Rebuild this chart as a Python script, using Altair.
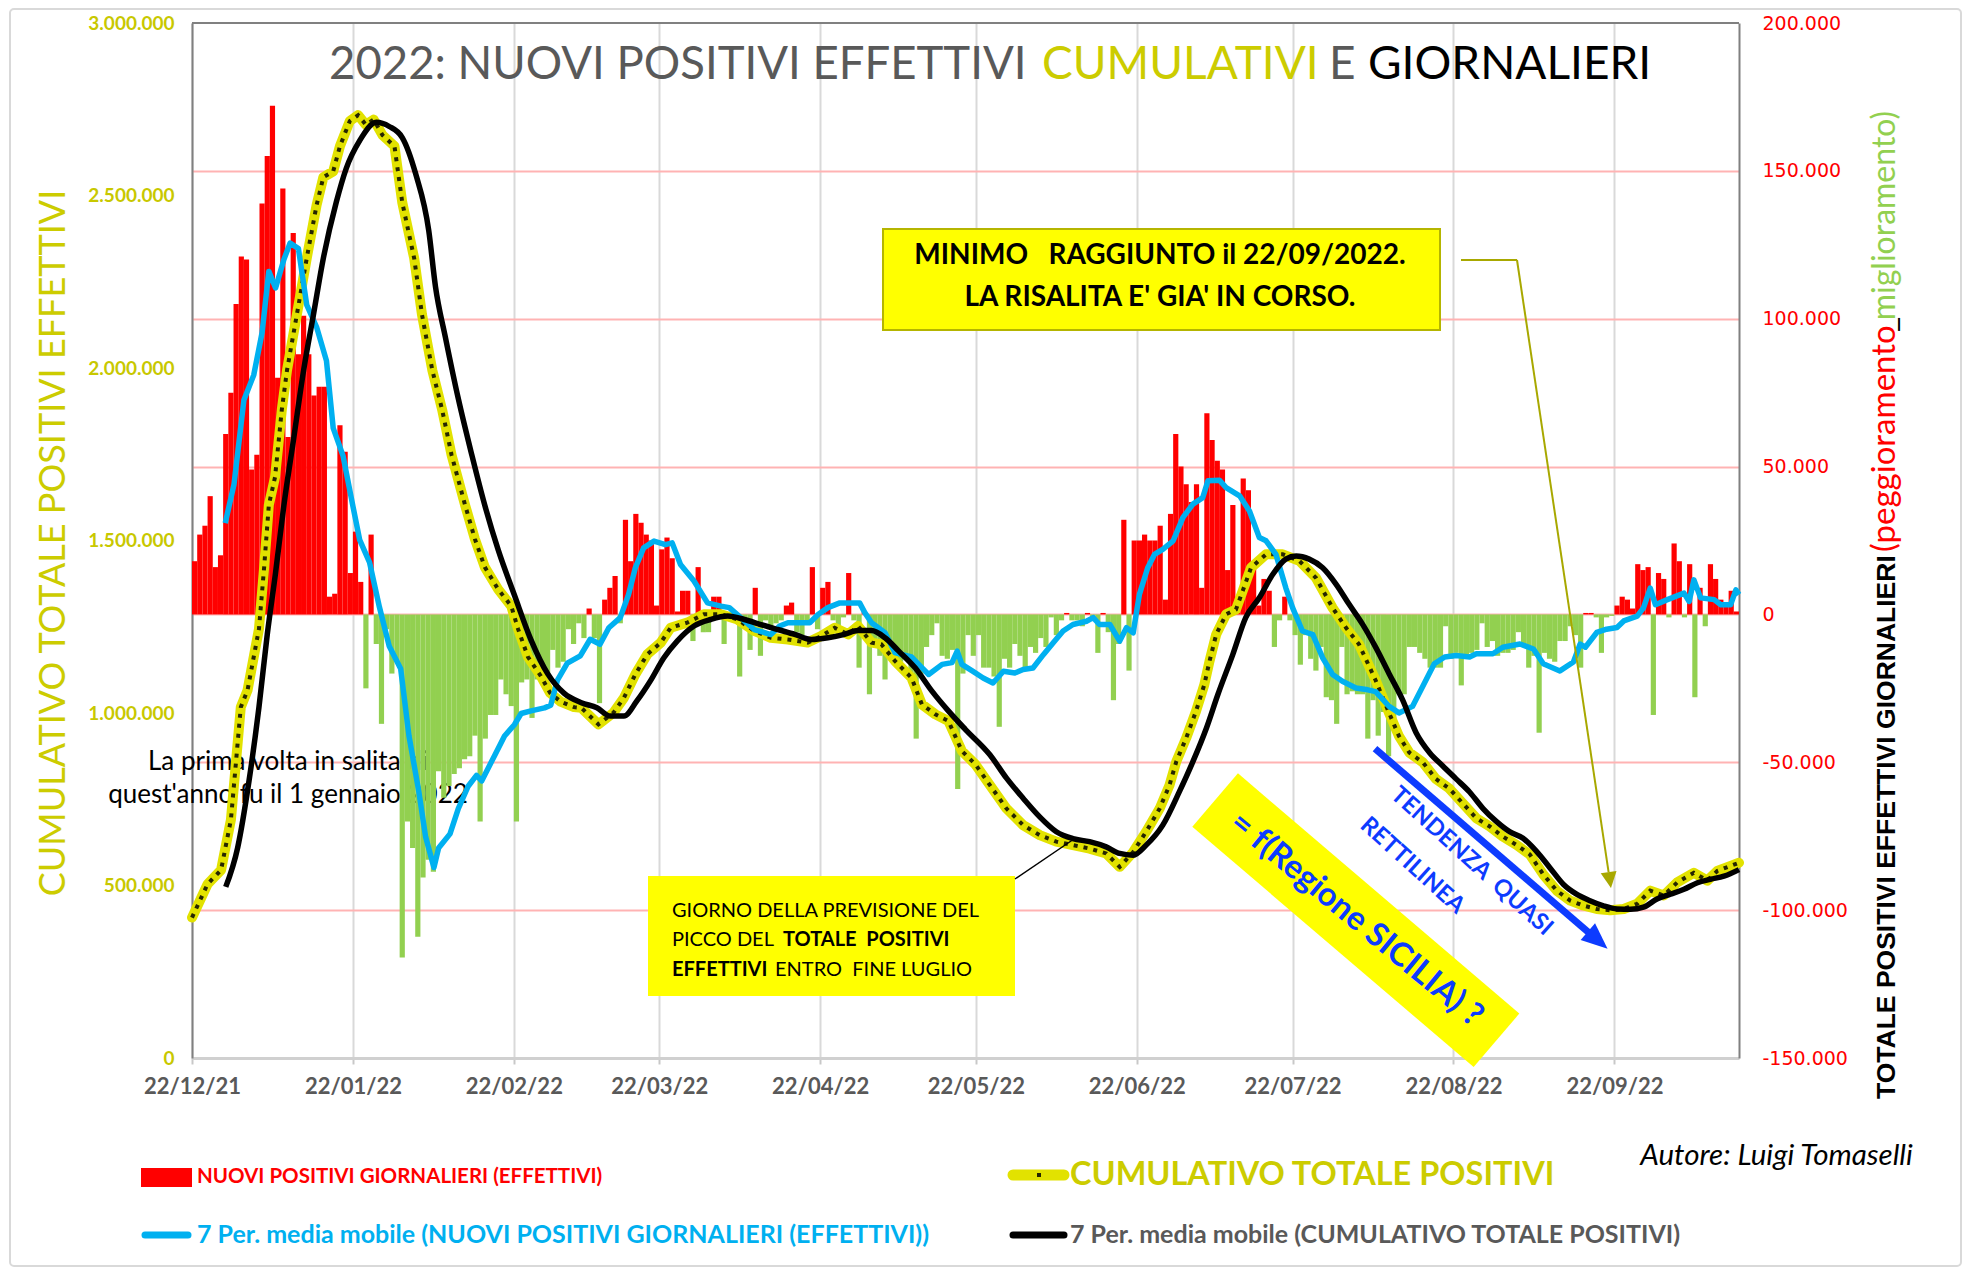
import altair as alt
import pandas as pd

START = pd.Timestamp("2021-12-22")

# daily change of total positives (thousands), one value per day from 22/12/2021
DAILY_K = [
    18, 27, 30, 40, 16, 20, 61, 75, 105, 121,
    120, 49, 54, 139, 155, 172, 80, 144, 60, 129,
    88, 101, 88, 74, 77, 77, 6, 7, 64, 55,
    14, 28, 11, -25, 27, -10, -37, -5, -20, -16,
    -116, -70, -79, -109, -89, -83, -87, -53, -62, -58,
    -54, -52, -49, -48, -41, -70, -42, -34, -34, -22,
    -27, -31, -70, -23, -22, -35, -22, -23, -20, -12,
    -18, -16, -5, -10, -3,
    -8, 2, -8, -30, 5,
    9, 13, -3, 32, 18, 34, 31, 27, 25, 3,
    22, 26, 19, 1, 8, 8, -9, 16, -6, -6,
    6, 6, -10, -1, 1, -21, -3, -12, 9, -14,
    -2, -4, -3, -2, 3, 4, -6, -7, -2, 16,
    -5, 9, 11, -2, -4, -1, 14, -2, -18, 1,
    -27, -9, -14, -22, -14, -15, -16, -14, -22, -42,
    -20, -11, -7, -3, -14, -15, -12, -59, -20, -7,
    -14, -7, -18, -18, -21, -38, -15, -18, -10, -14,
    -18, -11, -13, -8, -11, -1, -7, -2, 0.5, -2,
    -2, -4, 0.5, -2, -13, 0.5, -6, -29, -10, 32,
    -19, 25, 25, 27, 25, 25, 30, 5, 34, 61,
    50, 44, 38, 44, 9, 68, 59, 52, 49, 15,
    37, 6, 46, 42, 17, 3, 12, 8, -11, -2,
    6, -2, -7, -17, -7, -15, -19, -11, -28, -29,
    -37, -11, -27, -26, -27, -27, -42, -29, -41, -33,
    -48, -35, -27, -27, -11, -11, -13, -15, -18, -18,
    -18, -4, -15, -13, -24, -14, -13, -12, -3, -11,
    -9, -14, -13, -13, -12, -6, -11, -18, -14, -40,
    -13, -15, -16, -9, -9, -4, -7, -18, 0.5, 0.5,
    -1, -13, -1, -0.5, 3, 6, 5, 2, 17, 15,
    16, -34, 14, 12, -1, 24, 18, -1, 17, -28,
    9, -4, 17, 12, 5, 3, 8, 1,
]

# cumulative total positives (millions), sampled (days after 22/12/2021)
YEL_DAY = [0, 3, 5.6, 7.5, 9.4, 10.7, 12.9, 13.9, 14.8, 16,
           17.3, 18.3, 20.2, 22.1, 24, 25.3, 27.2, 28.5, 30.4, 32,
           33.5, 35, 36.7, 39, 40.5, 42.8, 44.3, 46.3, 48.2, 50,
           52.6, 54.5, 56.4, 59, 61.5, 62.8, 64.7, 67.2, 69, 71,
           73.6, 75, 78.3, 81.2, 83.2, 85.4, 87.7, 90.3, 92.2, 95.4,
           98.6, 101.9, 105.1, 108.3, 111.5, 114.8, 118.6, 121.2, 123.8, 126.4,
           128.3, 130.9, 132.8, 135.4, 138.6, 140.6, 143.2, 145.7, 148.3, 150.9,
           153.7, 156.9, 160.1, 163.3, 166.5, 169.7, 172.9, 176.1, 178.7, 181.3,
           183.8, 186.4, 188.3, 189.6, 191.5, 193.4, 195, 196, 197.3, 199.2,
           201.1, 202.4, 204, 206.9, 210.1, 213.3, 216.5, 219.7, 222.3, 224.8,
           228, 230.6, 232.5, 234.5, 237.1, 239.6, 242.2, 244.8, 247.4, 250,
           252.5, 255.1, 257.7, 260.3, 262.9, 265.5, 268, 270.6, 273.2, 275.8,
           278.4, 280.9, 283.5, 286.1, 289.3, 291.9, 293.8, 296.4, 298]
YEL_M = [0.407, 0.504, 0.545, 0.691, 1.017, 1.066, 1.244, 1.423, 1.603, 1.684,
         1.879, 1.993, 2.155, 2.318, 2.472, 2.553, 2.570, 2.643, 2.716, 2.733,
         2.705, 2.720, 2.675, 2.643, 2.480, 2.318, 2.155, 1.993, 1.878, 1.748,
         1.603, 1.504, 1.423, 1.358, 1.310, 1.244, 1.163, 1.107, 1.058, 1.033,
         1.017, 1.015, 0.967, 1.001, 1.044, 1.112, 1.170, 1.204, 1.247, 1.262,
         1.286, 1.286, 1.271, 1.238, 1.218, 1.213, 1.204, 1.223, 1.247, 1.228,
         1.252, 1.204, 1.199, 1.151, 1.102, 1.025, 0.996, 0.977, 0.890, 0.851,
         0.791, 0.723, 0.675, 0.646, 0.627, 0.617, 0.607, 0.593, 0.554, 0.597,
         0.656, 0.723, 0.791, 0.859, 0.927, 1.005, 1.082, 1.150, 1.228, 1.286,
         1.300, 1.354, 1.421, 1.460, 1.460, 1.441, 1.392, 1.305, 1.247, 1.199,
         1.095, 1.000, 0.933, 0.885, 0.857, 0.809, 0.781, 0.738, 0.695, 0.671,
         0.642, 0.618, 0.590, 0.532, 0.485, 0.456, 0.442, 0.432, 0.428, 0.432,
         0.447, 0.485, 0.471, 0.509, 0.537, 0.514, 0.542, 0.557, 0.566]

# 7-period moving average of the cumulative (millions)
BLK_DAY = [6.5, 8.8, 11, 12.9, 14.5, 16.1, 17.7, 19.6, 21.5, 23.4,
           25.3, 27.8, 29.7, 32.3, 35.5, 38, 40.5, 43.1, 45.6, 46.9,
           48.8, 51.3, 53.9, 56.4, 59, 62.1, 65.3, 68.5, 71.7, 75,
           78, 80.6, 83.2, 85.7, 88.3, 90.9, 93.5, 96.7, 99.9, 103.2,
           106.4, 109.6, 112.8, 116.1, 119.3, 122.5, 125.7, 128.3, 130.9, 133.5,
           136.1, 139.3, 142.5, 145.7, 149, 153.7, 156.9, 160.1, 163.3, 166.5,
           169.7, 172.9, 176.1, 178.7, 181.3, 183.8, 187, 190.2, 192.8, 195.4,
           197.6, 200.5, 203, 205.6, 208.2, 210.7, 212.7, 215.2, 217.8, 220.4,
           222.9, 225.5, 228, 230.6, 233.2, 235.8, 238.4, 240.9, 243.5, 246.1,
           248.7, 251.3, 253.8, 256.4, 259, 261.6, 264.2, 266.7, 269.3, 271.9,
           274.5, 277.1, 279.6, 282.2, 284.8, 287.4, 290, 292.5, 295.1, 298]
BLK_M = [0.496, 0.610, 0.805, 1.017, 1.228, 1.407, 1.602, 1.797, 1.993, 2.155,
         2.318, 2.481, 2.578, 2.659, 2.712, 2.700, 2.668, 2.562, 2.399, 2.236,
         2.090, 1.911, 1.748, 1.602, 1.472, 1.342, 1.212, 1.114, 1.057, 1.030,
         1.015, 0.991, 0.991, 1.035, 1.093, 1.160, 1.209, 1.252, 1.271, 1.281,
         1.271, 1.256, 1.242, 1.228, 1.213, 1.218, 1.228, 1.239, 1.239, 1.218,
         1.180, 1.131, 1.064, 1.006, 0.952, 0.879, 0.811, 0.753, 0.699, 0.656,
         0.636, 0.627, 0.612, 0.593, 0.588, 0.617, 0.675, 0.772, 0.859, 0.956,
         1.053, 1.170, 1.277, 1.334, 1.402, 1.446, 1.455, 1.446, 1.421, 1.373,
         1.315, 1.257, 1.191, 1.114, 1.038, 0.943, 0.885, 0.847, 0.809, 0.771,
         0.723, 0.685, 0.656, 0.637, 0.599, 0.551, 0.503, 0.475, 0.456, 0.441,
         0.432, 0.431, 0.437, 0.461, 0.475, 0.489, 0.508, 0.518, 0.527, 0.546]

# 7-period moving average of the daily values (thousands)
BLU_DAY = [6.4, 8.1, 10, 11.9, 13.5, 14.8, 16.1, 17.7, 18.9, 20.5,
           22.1, 24, 25.9, 27.2, 29.1, 31, 32.3, 34.2, 36.1, 38,
           40.2, 41.8, 43.7, 45, 46.6, 47.5, 49.7, 51.3, 53.2, 54.8,
           55.8, 58.3, 60.2, 62.1, 63.4, 65.3, 67.9, 69.1, 70.4, 72.3,
           74.8, 76.7, 78.6, 80.3, 82.5, 84.1, 85.4, 87, 89, 91.2,
           92.5, 94.1, 96.7, 99.3, 101.9, 103.5, 105.7, 108.3, 111.5, 113.2,
           114.8, 119, 120.6, 122.5, 124.8, 128.6, 129.6, 130.9, 133.5, 135.4,
           138.6, 140.6, 141.9, 144.5, 146.4, 147.4, 148.3, 150.3, 152.4, 154.3,
           156.3, 158.5, 160.1, 162, 164, 165.9, 167.8, 169.7, 172.3, 173.6,
           174.8, 176.8, 178.7, 180, 181.3, 182.5, 184.1, 185.4, 187, 189,
           190.9, 192.8, 194.7, 195.7, 197.9, 199.2, 201.8, 203.7, 205.6, 206.9,
           208.8, 210.7, 212, 213.9, 215.9, 217.8, 219.7, 221.6, 224.2, 226.5,
           228, 230.6, 232.5, 235.1, 236.7, 239.3, 241.3, 243.5, 246.1, 247.4,
           250.6, 252.5, 255.8, 258.4, 260.3, 263.5, 266.1, 267.4, 268.4, 270.6,
           272.5, 274.5, 275.8, 278.4, 279.6, 280.9, 281.9, 284.2, 287.4, 288.4,
           289.3, 290.6, 293.2, 294.5, 296.4, 297.4, 298]
BLU_K = [30.9, 44.1, 72.5, 81, 95.3, 116, 110.4, 120, 125.6, 123.7,
         104.7, 97.2, 85.8, 63, 53.6, 36.6, 25.2, 17.6, 2.5, -10.8,
         -18.4, -41.1, -60, -75.2, -85.6, -79, -74.2, -65.7, -58.1, -54.4,
         -56.3, -47.7, -41.1, -37.3, -33.5, -32.6, -31.6, -30.7, -22.2, -16.5,
         -14, -8.4, -10.1, -4.5, -1.1, 6.8, 15.8, 22.5, 24.8, 23.6,
         24.2, 16.9, 11.3, 3.9, 2.8, 2.3, -1.1, -5.1, -6.8, -3.9,
         -2.8, -2.8, 0, 2.3, 3.9, 3.9, 0.6, -2.8, -6.2, -12.9,
         -14.4, -18, -20.3, -16.9, -16.3, -12.4, -16.9, -19.1, -21.5, -23.2,
         -19.2, -19.8, -18.6, -18.1, -13.6, -9.6, -5.6, -3.4, -2.3, -1.1,
         -3.4, -3.4, -9, -4.5, -6.2, 6.8, 15.8, 20.3, 22, 24.9,
         32.8, 37.3, 39.5, 45.2, 45.4, 42.9, 40.1, 35, 26, 24.9,
         20.3, 9, 2.3, -5.6, -6.8, -14.7, -20.3, -22.6, -24.9, -25.5,
         -26.1, -31.1, -33.3, -31.1, -25.6, -16.7, -14.4, -13.9, -14.4, -13.3,
         -13.3, -11.1, -10, -11.7, -16.7, -19.1, -16.1, -10, -11.1, -6.1,
         -5, -4.4, -2.2, -0.6, 2.2, 8.9, 3.3, 5, 7.2, 4.4,
         11.7, 5.6, 5, 3.3, 3.3, 8.3, 6.7]

TICK_MONTHS = [(2021, 12), (2022, 1), (2022, 2), (2022, 3), (2022, 4),
               (2022, 5), (2022, 6), (2022, 7), (2022, 8), (2022, 9)]
LEFT_TICKS = [0, 500000, 1000000, 1500000, 2000000, 2500000, 3000000]
RIGHT_TICKS = [-150000, -100000, -50000, 0, 50000, 100000, 150000, 200000]

NB = "\u00a0"  # non-breaking space, keeps the double spacing of the original labels


def iso(day):
    return (START + pd.Timedelta(days=float(day))).strftime("%Y-%m-%dT%H:%M:%S")


bars_df = pd.DataFrame({
    "date": [iso(i) for i in range(len(DAILY_K))],
    "date_end": [iso(i + 1) for i in range(len(DAILY_K))],
    "value": [v * 1000 for v in DAILY_K],
})
yel_df = pd.DataFrame({"date": [iso(d) for d in YEL_DAY], "value": [v * 1e6 for v in YEL_M]})
blk_df = pd.DataFrame({"date": [iso(d) for d in BLK_DAY], "value": [v * 1e6 for v in BLK_M]})
blu_df = pd.DataFrame({"date": [iso(d) for d in BLU_DAY], "value": [v * 1000 for v in BLU_K]})

W, H = 1547, 1035
YELLOW_TXT = "#c8c800"

XS = alt.Scale(domain=[alt.DateTime(year=2021, month=12, date=22),
                       alt.DateTime(year=2022, month=10, date=16)], nice=False)
XA = alt.Axis(values=[alt.DateTime(year=y, month=m, date=22) for y, m in TICK_MONTHS],
              format="%d/%m/%y", title=None, labelFont="Lato", labelFontSize=22,
              labelFontWeight="bold", labelColor="#595959", labelPadding=12,
              labelFlush=False, labelOverlap=False, tickSize=6, tickColor="#c8c8c8",
              tickWidth=2, grid=True, gridColor="#d9d9d9", gridWidth=2,
              domainColor="#d0d0d0", domainWidth=3)
X = alt.X("date:T", scale=XS, axis=XA)

LS = alt.Scale(domain=[0, 3000000], nice=False, zero=False)
LA = alt.Axis(orient="left", values=LEFT_TICKS, title=None,
              labelExpr="replace(replace(format(datum.value, ','), ',', '.'), ',', '.')",
              labelFont="Lato", labelFontSize=19, labelFontWeight="bold",
              labelColor=YELLOW_TXT, labelPadding=18, ticks=False, grid=False,
              labelFlush=False, domainColor="#808080", domainWidth=2)
RS = alt.Scale(domain=[-150000, 200000], nice=False, zero=False)
RA = alt.Axis(orient="right", values=RIGHT_TICKS, title=None,
              labelExpr="(datum.value < 0 ? '-' : '') + replace(format(abs(datum.value), ','), ',', '.')",
              labelFont="DejaVu Sans", labelFontSize=19, labelColor="#ff0000",
              labelPadding=23, ticks=False, labelFlush=False, grid=True,
              gridColor={"condition": {"test": "datum.value == 200000 || datum.value == -150000",
                                       "value": "transparent"}, "value": "#ffb3b3"},
              gridWidth=2, domainColor="#808080", domainWidth=2)

bars = alt.Chart(bars_df).mark_bar(strokeWidth=0).encode(
    x=X, x2=alt.X2("date_end"),
    y=alt.Y("value:Q", scale=RS, axis=RA), y2=alt.datum(0),
    color=alt.condition("datum.value > 0", alt.value("#ff0000"), alt.value("#92d050")),
)
yellow = alt.Chart(yel_df).mark_line(color="#e2e200", strokeWidth=10, strokeJoin="round",
                                     strokeCap="round").encode(
    x=X, y=alt.Y("value:Q", scale=LS, axis=LA))
dots = alt.Chart(yel_df).mark_line(color="#262600", strokeWidth=4, strokeDash=[4, 6]).encode(
    x=X, y=alt.Y("value:Q", scale=LS, axis=None))
blue = alt.Chart(blu_df).mark_line(color="#00b0f0", strokeWidth=5.5, strokeJoin="round").encode(
    x=X, y=alt.Y("value:Q", scale=RS, axis=None))
black = alt.Chart(blk_df).mark_line(color="#000000", strokeWidth=5.5, interpolate="monotone").encode(
    x=X, y=alt.Y("value:Q", scale=LS, axis=None))

ANN = pd.DataFrame({"k": [0]})


def text(s, x, y, size, color="#000000", weight="normal", font="Lato", align="left",
         angle=0, baseline="middle", style="normal"):
    kw = dict(text=s, align=align, baseline=baseline, font=font, fontSize=size,
              fontWeight=weight, color=color, fontStyle=style)
    if angle:
        kw["angle"] = angle
    return alt.Chart(ANN).mark_text(**kw).encode(x=alt.value(x), y=alt.value(y))


def seg(x1, y1, x2, y2, color, width, cap="butt"):
    return alt.Chart(ANN).mark_rule(color=color, strokeWidth=width, strokeCap=cap).encode(
        x=alt.value(x1), x2=alt.value(x2), y=alt.value(y1), y2=alt.value(y2))


def box(x1, y1, x2, y2, **kw):
    return alt.Chart(ANN).mark_rect(**kw).encode(
        x=alt.value(x1), x2=alt.value(x2), y=alt.value(y1), y2=alt.value(y2))


def symbol(path, x, y, size, angle, color):
    return alt.Chart(ANN).mark_point(shape=path, filled=True, color=color, size=size,
                                     angle=angle, opacity=1, strokeWidth=0).encode(
        x=alt.value(x), y=alt.value(y))


BLUE_TXT = "#0d3bff"

background = [
    box(-182, -14, 1769, 1243, fillOpacity=0, stroke="#d9d9d9", strokeWidth=2, cornerRadius=4),
    text("La prima volta in salita di", 96, 739, 26, align="center"),
    text("quest'anno fu il 1 gennaio 2022", 96, 772, 26, align="center"),
]

annotations = [
    seg(0, 0, W, 0, "#808080", 2),
    # title
    text("2022: NUOVI POSITIVI EFFETTIVI", 137, 56, 45.5, color="#595959",
         baseline="alphabetic"),
    text("CUMULATIVI", 850, 56, 46, color="#cccc00", baseline="alphabetic"),
    text("E", 1137, 56, 46, color="#595959", baseline="alphabetic"),
    text("GIORNALIERI", 1176, 56, 46, color="#000000", baseline="alphabetic"),
    # axis titles
    text("CUMULATIVO TOTALE POSITIVI EFFETTIVI", -127, 520, 36, color="#cccc00",
         align="center", angle=270, baseline="alphabetic"),
    text("TOTALE POSITIVI EFFETTIVI GIORNALIERI", 1703, 1076, 26.5,
         font="Liberation Sans", weight="bold", angle=270, baseline="alphabetic"),
    text("(peggioramento", 1703, 529, 33, color="#ff0000", angle=270, baseline="alphabetic"),
    text("_", 1703, 309, 33, color="#000000", angle=270, baseline="alphabetic"),
    text("miglioramento)", 1703, 88, 32, color="#92d050", angle=270, baseline="alphabetic",
         align="right"),
    # box MINIMO
    box(691, 206, 1248, 307, color="#ffff00", stroke="#b5b500", strokeWidth=2),
    text("MINIMO" + NB + NB + " RAGGIUNTO il 22/09/2022.", 968, 233, 28, weight="bold",
         align="center"),
    text("LA RISALITA E' GIA' IN CORSO.", 968, 275, 28, weight="bold", align="center"),
    seg(1269, 237, 1325, 237, "#a8a800", 2),
    seg(1325, 237, 1416.6, 849.2, "#a8a800", 2),
    symbol("M1,0L-1,-1L-1,1Z", 1417.8, 857.1, 256, 81.5, "#a8a800"),
    # box GIORNO
    box(456, 853, 823, 973, color="#ffff00"),
    text("GIORNO DELLA PREVISIONE DEL", 480, 888, 20),
    text("PICCO DEL", 480, 917, 20),
    text("TOTALE" + NB + " POSITIVI", 591, 917, 20, weight="bold"),
    text("EFFETTIVI", 480, 947, 20, weight="bold"),
    text("ENTRO" + NB + " FINE LUGLIO", 583, 947, 20),
    seg(823, 856, 882, 816, "#000000", 1.5),
    # rotated yellow label
    symbol("M-1,-0.19L1,-0.19L1,0.19L-1,0.19Z", 1163.8, 897.2, 136900, 40.5, "#ffff00"),
    text("= f(Regione SICILIA) ?", 1164.5, 896.5, 33, color=BLUE_TXT, weight="bold",
         align="center", angle=39.5),
    # blue trend arrow
    seg(1183, 725.7, 1397.4, 910.1, BLUE_TXT, 7),
    symbol("M1,0L-1,-0.85L-1,0.85Z", 1405.7, 917.2, 676, 40.7, BLUE_TXT),
    text("TENDENZA" + NB + " QUASI", 1279.6, 838.4, 23.5, color=BLUE_TXT, weight="bold",
         align="center", angle=42),
    text("RETTILINEA", 1220.3, 842.6, 23.5, color=BLUE_TXT, weight="bold",
         align="center", angle=42),
    # author
    text("Autore: Luigi Tomaselli", 1584.5, 1133, 29.5, align="center", style="italic"),
    # legend
    box(-51, 1145, 0, 1164, color="#ff0000"),
    text("NUOVI POSITIVI GIORNALIERI (EFFETTIVI)", 5, 1154, 20.5, color="#ff0000", weight="bold"),
    seg(821, 1152, 872, 1152, "#e2e200", 11, cap="round"),
    alt.Chart(ANN).mark_square(color="#262600", size=16, opacity=1).encode(
        x=alt.value(847), y=alt.value(1152)),
    text("CUMULATIVO TOTALE POSITIVI", 878, 1152, 32.5, color="#cccc00", weight="bold"),
    seg(-47, 1212, -4, 1212, "#00b0f0", 7, cap="round"),
    text("7 Per. media mobile (NUOVI POSITIVI GIORNALIERI (EFFETTIVI))", 5, 1212, 25,
         color="#00b0f0", weight="bold"),
    seg(821, 1212, 872, 1212, "#000000", 7, cap="round"),
    text("7 Per. media mobile (CUMULATIVO TOTALE POSITIVI)", 878, 1212, 25,
         color="#595959", weight="bold"),
]

chart = alt.layer(
    *background, bars, yellow, dots, blue, black, *annotations
).resolve_scale(y="independent").properties(
    width=W, height=H,
    padding={"left": 184, "top": 15, "right": 223, "bottom": 209},
    autosize=alt.AutoSizeParams(type="none"),
).configure_view(strokeWidth=0)

chart.save("out.html", embed_options={"renderer": "svg", "actions": False})
